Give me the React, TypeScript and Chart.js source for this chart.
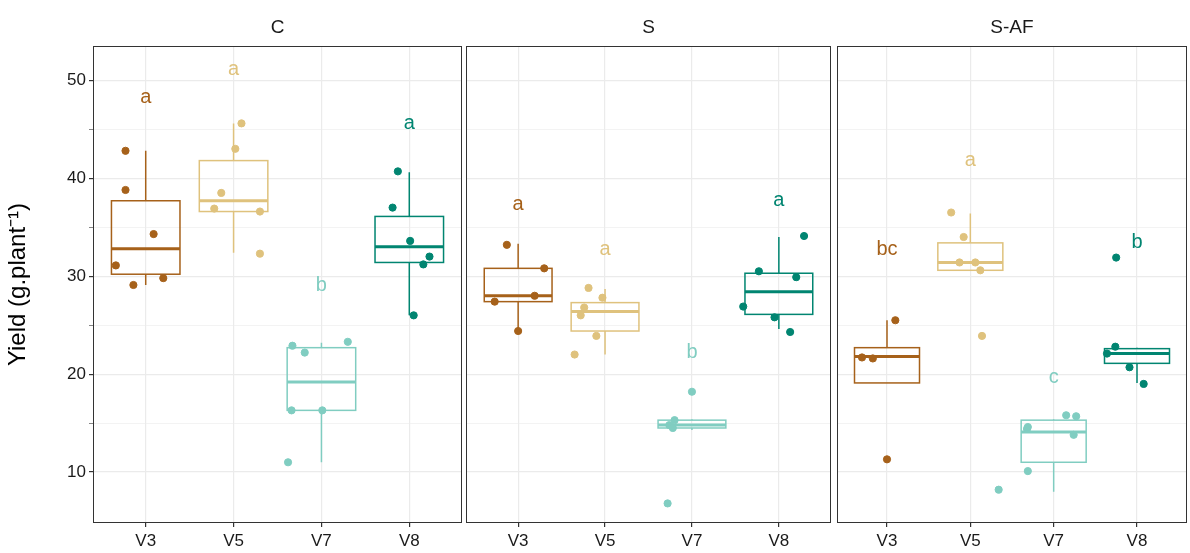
import Chart from 'chart.js/auto'
import { useEffect, useRef } from 'react'

const categories = ['V3', 'V5', 'V7', 'V8']
const colors = ['#A6611A', '#DFC27D', '#80CDC1', '#018571']
const panels = ['C', 'S', 'S-AF']

// [whiskerLow, q1, median, q3, whiskerHigh] per panel, per category
const boxStats = [
  [[29.1, 30.2, 32.8, 37.7, 42.8], [32.4, 36.6, 37.7, 41.8, 45.6], [11.0, 16.3, 19.2, 22.7, 23.2], [26.0, 31.4, 33.0, 36.1, 40.6]],
  [[24.4, 27.4, 28.0, 30.8, 33.3], [22.0, 24.4, 26.4, 27.3, 28.7], [14.3, 14.5, 14.8, 15.3, 15.4], [24.6, 26.1, 28.4, 30.3, 34.0]],
  [[19.1, 19.1, 21.8, 22.7, 25.5], [30.6, 30.6, 31.4, 33.4, 36.4], [8.0, 11.0, 14.1, 15.3, 15.4], [19.1, 21.1, 22.1, 22.6, 22.7]],
]

// jittered observations: [x offset from category, value]
const points = [
  [
    [[-0.34, 31.1], [-0.23, 38.8], [-0.23, 42.8], [-0.14, 29.1], [0.09, 34.3], [0.2, 29.8]],
    [[-0.22, 36.9], [-0.14, 38.5], [0.02, 43.0], [0.09, 45.6], [0.3, 36.6], [0.3, 32.3]],
    [[-0.38, 11.0], [-0.34, 16.3], [-0.33, 22.9], [-0.19, 22.2], [0.01, 16.3], [0.3, 23.3]],
    [[-0.19, 37.0], [-0.13, 40.7], [0.01, 33.6], [0.05, 26.0], [0.16, 31.2], [0.23, 32.0]],
  ],
  [
    [[-0.27, 27.4], [-0.13, 33.2], [0.0, 24.4], [0.19, 28.0], [0.3, 30.8]],
    [[-0.35, 22.0], [-0.28, 26.0], [-0.24, 26.8], [-0.19, 28.8], [-0.1, 23.9], [-0.03, 27.8]],
    [[-0.28, 6.8], [-0.26, 14.8], [-0.22, 14.5], [-0.2, 15.3], [0.0, 18.2]],
    [[-0.41, 26.9], [-0.23, 30.5], [-0.05, 25.8], [0.13, 24.3], [0.2, 29.9], [0.29, 34.1]],
  ],
  [
    [[-0.3, 21.7], [-0.17, 21.6], [0.1, 25.5], [0.0, 11.3]],
    [[-0.23, 36.5], [-0.08, 34.0], [-0.13, 31.4], [0.06, 31.4], [0.12, 30.6], [0.14, 23.9]],
    [[-0.66, 8.2], [-0.32, 14.4], [-0.31, 14.6], [0.15, 15.8], [0.27, 15.7], [0.24, 13.8], [-0.31, 10.1]],
    [[-0.36, 22.1], [-0.26, 22.8], [-0.25, 31.9], [-0.09, 20.7], [0.08, 19.0]],
  ],
]

const letters = [
  [['a', 48.2], ['a', 51.1], ['b', 29.1], ['a', 45.6]],
  [['a', 37.3], ['a', 32.7], ['b', 22.2], ['a', 37.7]],
  [['bc', 32.7], ['a', 41.8], ['c', 19.7], ['b', 33.4]],
]

const FONT = 'Liberation Sans, Arial, sans-serif'

const Panel = ({ idx, left, width }: { idx: number; left: number; width: number }) => {
  const ref = useRef<HTMLCanvasElement | null>(null)
  useEffect(() => {
    if (!ref.current) return
    const boxPlugin = {
      id: 'boxes',
      beforeDatasetsDraw(chart: any) {
        const { ctx, scales } = chart
        const x = scales.x
        const y = scales.y
        ctx.save()
        boxStats[idx].forEach((s, i) => {
          const c = colors[i]
          const xc = x.getPixelForValue(i)
          const hw = x.getPixelForValue(i + 0.39) - xc
          ctx.strokeStyle = c
          ctx.lineWidth = 1.5
          ctx.beginPath()
          ctx.moveTo(xc, y.getPixelForValue(s[4]))
          ctx.lineTo(xc, y.getPixelForValue(s[3]))
          ctx.moveTo(xc, y.getPixelForValue(s[1]))
          ctx.lineTo(xc, y.getPixelForValue(s[0]))
          ctx.stroke()
          ctx.strokeRect(xc - hw, y.getPixelForValue(s[3]), 2 * hw, y.getPixelForValue(s[1]) - y.getPixelForValue(s[3]))
          ctx.lineWidth = 3
          ctx.beginPath()
          ctx.moveTo(xc - hw, y.getPixelForValue(s[2]))
          ctx.lineTo(xc + hw, y.getPixelForValue(s[2]))
          ctx.stroke()
        })
        ctx.font = `20px ${FONT}`
        ctx.textAlign = 'center'
        ctx.textBaseline = 'middle'
        letters[idx].forEach(([t, v], i) => {
          ctx.fillStyle = colors[i]
          ctx.fillText(t as string, x.getPixelForValue(i), y.getPixelForValue(v as number))
        })
        ctx.restore()
      },
      afterDraw(chart: any) {
        const { ctx, chartArea } = chart
        ctx.save()
        ctx.strokeStyle = '#333'
        ctx.lineWidth = 1
        ctx.strokeRect(chartArea.left + 0.5, chartArea.top + 0.5, chartArea.right - chartArea.left - 1, chartArea.bottom - chartArea.top - 1)
        ctx.fillStyle = '#1a1a1a'
        ctx.font = `19px ${FONT}`
        ctx.textAlign = 'center'
        ctx.textBaseline = 'middle'
        ctx.fillText(panels[idx], (chartArea.left + chartArea.right) / 2, 28)
        ctx.restore()
      },
    }
    const chart = new Chart(ref.current, {
      type: 'scatter',
      data: {
        datasets: categories.map((_, i) => ({
          data: points[idx][i].map(([dx, v]) => ({ x: i + dx, y: v })),
          backgroundColor: colors[i],
          borderColor: colors[i],
          pointRadius: 3.6,
        })),
      },
      options: {
        animation: false,
        responsive: false,
        layout: { padding: { top: 46, right: 0, left: 0, bottom: 0 } },
        plugins: { legend: { display: false }, tooltip: { enabled: false } },
        scales: {
          x: {
            type: 'linear',
            min: -0.6,
            max: 3.6,
            afterBuildTicks: (s: any) => { s.ticks = categories.map((_, i) => ({ value: i })) },
            afterFit: (s: any) => { s.height = 30 },
            ticks: { callback: (v: any) => categories[v], color: '#1a1a1a', font: { size: 17, family: FONT }, padding: 4 },
            grid: { color: '#EBEBEB', lineWidth: 1.2, drawTicks: true, tickColor: '#333', tickLength: 4 },
            border: { display: false },
          },
          y: {
            display: true,
            min: 4.8,
            max: 53.5,
            afterBuildTicks: (s: any) => { s.ticks = [10, 15, 20, 25, 30, 35, 40, 45, 50].map((v) => ({ value: v })) },
            afterFit: (s: any) => { s.width = idx === 0 ? 93 : 0 },
            ticks: {
              display: idx === 0,
              callback: (v: any) => (v % 10 === 0 ? String(v) : ''),
              color: '#1a1a1a',
              font: { size: 17, family: FONT },
            },
            title: { display: idx === 0, text: 'Yield (g.plant⁻¹)', color: '#000', font: { size: 24, family: FONT } },
            grid: {
              color: '#EBEBEB',
              lineWidth: (c: any) => (c.tick && c.tick.value % 10 === 0 ? 1.2 : 0.6),
              drawTicks: idx === 0,
              tickColor: '#333',
              tickLength: 4,
            },
            border: { display: false },
          },
        },
      },
      plugins: [boxPlugin],
    })
    return () => chart.destroy()
  }, [])
  return <canvas ref={ref} width={width} height={553} style={{ position: 'absolute', left, top: 0 }} />
}

export default function App() {
  return (
    <div style={{ position: 'fixed', left: 0, top: 0, width: 1190, height: 553, background: '#fff', overflow: 'hidden' }}>
      <Panel idx={0} left={0} width={467} />
      <Panel idx={1} left={461} width={375} />
      <Panel idx={2} left={832} width={360} />
    </div>
  )
}
